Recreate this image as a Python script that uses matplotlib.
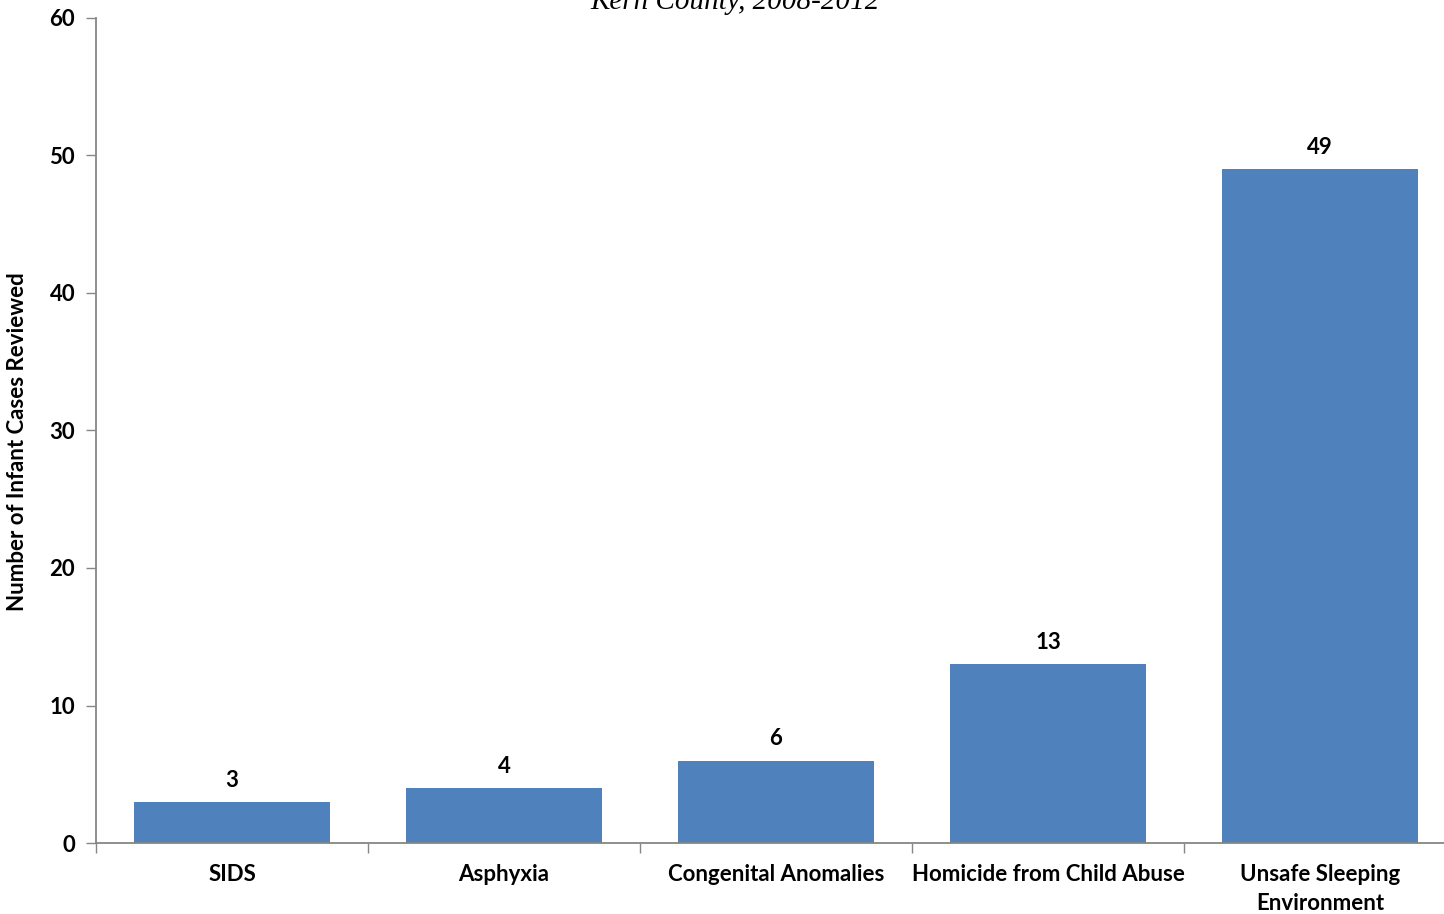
import matplotlib
matplotlib.use("Agg")
import matplotlib.pyplot as plt
from matplotlib.ticker import FixedLocator

categories = ["SIDS", "Asphyxia", "Congenital Anomalies", "Homicide from Child Abuse",
              "Unsafe Sleeping\nEnvironment"]
values = [3, 4, 6, 13, 49]
yticks = [0, 10, 20, 30, 40, 50, 60]

W, H = 1444, 914
fig = plt.figure(figsize=(W / 100, H / 100), dpi=100)
ax = fig.add_axes([96 / W, (H - 843) / H, 1360 / W, 825 / H])

font = "Lato"
fs = 16
x = list(range(len(categories)))
bars = ax.bar(x, values, width=0.717, color="#4F81BD", zorder=2)

ax.set_xlim(-0.5, len(categories) - 0.5)
ax.set_ylim(0, 60)
ax.set_yticks(yticks)
ax.set_yticklabels([str(t) for t in yticks], fontfamily=font, fontweight="bold", fontsize=fs)
ax.set_xticks(x)
ax.set_xticklabels(categories, fontfamily=font, fontweight="bold", fontsize=fs, linespacing=1.5, va="top")
ax.tick_params(axis="x", which="major", length=0, pad=15)
ax.xaxis.set_minor_locator(FixedLocator([i + 0.5 for i in range(-1, len(categories))]))
ax.tick_params(axis="x", which="minor", length=7, color="#868686", width=1)
ax.tick_params(axis="y", length=7, color="#868686", width=1, pad=8)

for s in ["top", "right"]:
    ax.spines[s].set_visible(False)
for s in ["left", "bottom"]:
    ax.spines[s].set_color("#868686")
    ax.spines[s].set_linewidth(1.3)

for xi, v in zip(x, values):
    ax.annotate(str(v), (xi, v), xytext=(0, 8), textcoords="offset points",
                ha="center", va="bottom", fontfamily=font, fontweight="bold", fontsize=fs)

ax.set_ylabel("Number of Infant Cases Reviewed", fontfamily=font, fontweight="bold", fontsize=fs)
ax.yaxis.set_label_coords(-0.05, 0.486)

fig.text(735 / W, 1 - 2 / H, "Kern County, 2008-2012", ha="center", va="center",
         fontfamily="Liberation Serif", fontstyle="italic", fontsize=21)

fig.savefig("out.png", dpi=100)
